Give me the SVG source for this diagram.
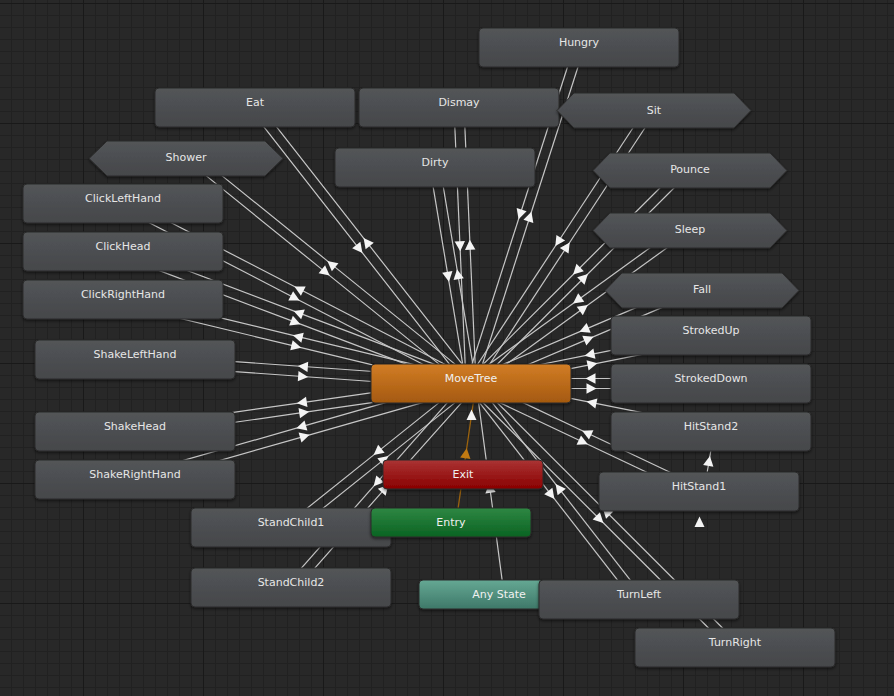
<svg xmlns="http://www.w3.org/2000/svg" width="894" height="696" viewBox="0 0 894 696">
<defs>
<pattern id="minor" width="12" height="12" patternUnits="userSpaceOnUse" x="11" y="3"><rect x="0" y="0" width="1" height="12" fill="#212121"/><rect x="0" y="0" width="12" height="1" fill="#212121"/></pattern>
<pattern id="major" width="120" height="120" patternUnits="userSpaceOnUse" x="83" y="3"><rect x="0" y="0" width="1" height="120" fill="#191919"/><rect x="0" y="0" width="120" height="1" fill="#191919"/></pattern>
<linearGradient id="gGray" x1="0" y1="0" x2="0" y2="1"><stop offset="0" stop-color="#535558"/><stop offset="1" stop-color="#45474a"/></linearGradient>
<linearGradient id="gOrange" x1="0" y1="0" x2="0" y2="1"><stop offset="0" stop-color="#d27d25"/><stop offset="1" stop-color="#a45910"/></linearGradient>
<linearGradient id="gRed" x1="0" y1="0" x2="0" y2="1"><stop offset="0" stop-color="#aa3434"/><stop offset="1" stop-color="#8a0000"/></linearGradient>
<linearGradient id="gGreen" x1="0" y1="0" x2="0" y2="1"><stop offset="0" stop-color="#2f8743"/><stop offset="1" stop-color="#0a6322"/></linearGradient>
<linearGradient id="gTeal" x1="0" y1="0" x2="0" y2="1"><stop offset="0" stop-color="#65a894"/><stop offset="1" stop-color="#3e7868"/></linearGradient>
<filter id="sh" x="-10%" y="-30%" width="120%" height="170%"><feDropShadow dx="0" dy="1.5" stdDeviation="1.5" flood-color="#000" flood-opacity="0.55"/></filter>
<marker id="ar" viewBox="-7 -7 14 14" markerWidth="14" markerHeight="14" refX="0" refY="0" orient="auto" markerUnits="userSpaceOnUse"><path d="M5.5,0 L-4.5,-5.2 L-4.5,5.2 Z" fill="#f4f4f4"/></marker>
<marker id="aro" viewBox="-7 -7 14 14" markerWidth="14" markerHeight="14" refX="0" refY="0" orient="auto" markerUnits="userSpaceOnUse"><path d="M5.5,0 L-4.5,-5.2 L-4.5,5.2 Z" fill="#c27a12"/></marker>
</defs>
<style>
.n{fill:url(#gGray);stroke:#2a2a2a;stroke-width:1;filter:url(#sh)}
.t{font-family:"DejaVu Sans","Liberation Sans",sans-serif;font-size:11px;fill:#e6e6e6;text-anchor:middle}
.tw{font-family:"DejaVu Sans","Liberation Sans",sans-serif;font-size:11px;fill:#f0f0f0;text-anchor:middle}
.c{stroke:#c6c6c6;stroke-width:1.2;fill:none;marker-mid:url(#ar)}
.co{stroke:#9a620e;stroke-width:1.3;fill:none;marker-mid:url(#aro)}
.self{fill:#f4f4f4}
</style>
<rect width="894" height="696" fill="#282828"/>
<rect width="894" height="696" fill="url(#minor)"/>
<rect width="894" height="696" fill="url(#major)"/>
<g id="connectors">
<path class="c" d="M574.24,45.97 L520.24,213.97 L466.24,381.97"/>
<path class="c" d="M475.76,385.03 L529.76,217.03 L583.76,49.03"/>
<path class="c" d="M251.06,110.58 L359.06,248.58 L467.06,386.58"/>
<path class="c" d="M474.94,380.42 L366.94,242.42 L258.94,104.42"/>
<path class="c" d="M454.00,107.72 L460.00,245.72 L466.00,383.72"/>
<path class="c" d="M476.00,383.28 L470.00,245.28 L464.00,107.28"/>
<path class="c" d="M430.07,168.32 L448.07,276.32 L466.07,384.32"/>
<path class="c" d="M475.93,382.68 L457.93,274.68 L439.93,166.68"/>
<path class="c" d="M120.70,207.94 L294.70,297.94 L468.70,387.94"/>
<path class="c" d="M473.30,379.06 L299.30,289.06 L125.30,199.06"/>
<path class="c" d="M121.23,256.18 L295.23,322.18 L469.23,388.18"/>
<path class="c" d="M472.77,378.83 L298.77,312.83 L124.77,246.83"/>
<path class="c" d="M121.83,304.36 L295.83,346.36 L469.83,388.36"/>
<path class="c" d="M472.17,378.64 L298.17,336.64 L124.17,294.64"/>
<path class="c" d="M134.64,364.49 L302.64,376.49 L470.64,388.49"/>
<path class="c" d="M471.36,378.51 L303.36,366.51 L135.36,354.51"/>
<path class="c" d="M135.71,436.45 L303.71,412.45 L471.71,388.45"/>
<path class="c" d="M470.29,378.55 L302.29,402.55 L134.29,426.55"/>
<path class="c" d="M136.37,484.31 L304.37,436.31 L472.37,388.31"/>
<path class="c" d="M469.63,378.69 L301.63,426.69 L133.63,474.69"/>
<path class="c" d="M294.12,531.40 L384.12,459.40 L474.12,387.40"/>
<path class="c" d="M467.88,379.60 L377.88,451.60 L287.88,523.60"/>
<path class="c" d="M294.75,590.81 L384.75,488.81 L474.75,387.81"/>
<path class="c" d="M467.25,380.19 L377.25,482.19 L287.25,584.19"/>
<path class="c" d="M710.02,330.60 L590.02,354.60 L470.02,378.60"/>
<path class="c" d="M471.98,388.40 L591.98,364.40 L711.98,340.40"/>
<path class="c" d="M711,378.5 L591,378.5 L471,378.5"/>
<path class="c" d="M471,388.5 L591,388.5 L711,388.5"/>
<path class="c" d="M711.98,426.60 L591.98,402.60 L471.98,378.60"/>
<path class="c" d="M701.14,486.98 L587.14,432.98 L473.14,378.98"/>
<path class="c" d="M468.86,388.02 L582.86,442.02 L696.86,496.02"/>
<path class="c" d="M704,491 L709,461.5 L714,432"/>
<path class="c" d="M642.95,596.43 L558.95,488.43 L474.95,380.43"/>
<path class="c" d="M467.05,386.57 L551.05,494.57 L635.05,602.57"/>
<path class="c" d="M738.54,643.96 L606.54,511.96 L474.54,379.96"/>
<path class="c" d="M467.46,387.04 L599.46,519.04 L731.46,651.04"/>
<path class="c" d="M182.86,156.89 L325.36,272.14 L467.86,387.39"/>
<path class="c" d="M474.14,379.61 L331.64,264.36 L189.14,149.11"/>
<path class="c" d="M649.82,102.25 L558.32,241.50 L466.82,380.75"/>
<path class="c" d="M475.18,386.25 L566.68,247.00 L658.18,107.75"/>
<path class="c" d="M686.47,161.46 L576.97,270.71 L467.47,379.96"/>
<path class="c" d="M474.53,387.04 L584.03,277.79 L693.53,168.54"/>
<path class="c" d="M687.07,220.95 L577.57,300.20 L468.07,379.45"/>
<path class="c" d="M473.93,387.55 L583.43,308.30 L692.93,229.05"/>
<path class="c" d="M700.04,280.40 L584.54,329.65 L469.04,378.90"/>
<path class="c" d="M472.96,388.10 L588.46,338.85 L703.96,289.60"/>
<path class="c" d="M503.96,593.84 L489.96,488.34 L475.96,382.84"/>
<path class="co" d="M455.95,523.21 L465.95,453.71 L475.95,384.21"/>
<path class="self" d="M471.5,409.5 L476.5,420 L466.5,420 Z"/>
<path class="self" d="M699.5,516.5 L704.5,527 L694.5,527 Z"/>
</g>
<g id="n-hungry"><rect class="n" x="479" y="28" width="200" height="39" rx="4"/><text class="t" x="579" y="46">Hungry</text></g>
<g id="n-eat"><rect class="n" x="155" y="88" width="200" height="39" rx="4"/><text class="t" x="255" y="106">Eat</text></g>
<g id="n-dismay"><rect class="n" x="359" y="88" width="200" height="39" rx="4"/><text class="t" x="459" y="106">Dismay</text></g>
<g id="n-sit"><path class="n" d="M557,110.5 L574,93 L734,93 L751,110.5 L734,128 L574,128 Z" stroke-linejoin="round"/><text class="t" x="654" y="114">Sit</text></g>
<g id="n-shower"><path class="n" d="M89,158.5 L107,141 L265,141 L283,158.5 L265,176 L107,176 Z" stroke-linejoin="round"/><text class="t" x="186" y="161">Shower</text></g>
<g id="n-dirty"><rect class="n" x="335" y="148" width="200" height="39" rx="4"/><text class="t" x="435" y="166">Dirty</text></g>
<g id="n-clicklefthand"><rect class="n" x="23" y="184" width="200" height="39" rx="4"/><text class="t" x="123" y="202">ClickLeftHand</text></g>
<g id="n-pounce"><path class="n" d="M593,170.5 L610,153 L770,153 L787,170.5 L770,188 L610,188 Z" stroke-linejoin="round"/><text class="t" x="690" y="173">Pounce</text></g>
<g id="n-clickhead"><rect class="n" x="23" y="232" width="200" height="39" rx="4"/><text class="t" x="123" y="250">ClickHead</text></g>
<g id="n-sleep"><path class="n" d="M593,230.5 L610,213 L770,213 L787,230.5 L770,248 L610,248 Z" stroke-linejoin="round"/><text class="t" x="690" y="233">Sleep</text></g>
<g id="n-clickrighthand"><rect class="n" x="23" y="280" width="200" height="39" rx="4"/><text class="t" x="123" y="298">ClickRightHand</text></g>
<g id="n-fall"><path class="n" d="M605,290.5 L622,273 L782,273 L799,290.5 L782,308 L622,308 Z" stroke-linejoin="round"/><text class="t" x="702" y="293">Fall</text></g>
<g id="n-strokedup"><rect class="n" x="611" y="316" width="200" height="39" rx="4"/><text class="t" x="711" y="334">StrokedUp</text></g>
<g id="n-shakelefthand"><rect class="n" x="35" y="340" width="200" height="39" rx="4"/><text class="t" x="135" y="358">ShakeLeftHand</text></g>
<g id="n-movetree"><rect class="n" style="fill:url(#gOrange)" x="371" y="364" width="200" height="39" rx="4"/><text class="tw" x="471" y="382">MoveTree</text></g>
<g id="n-strokeddown"><rect class="n" x="611" y="364" width="200" height="39" rx="4"/><text class="t" x="711" y="382">StrokedDown</text></g>
<g id="n-shakehead"><rect class="n" x="35" y="412" width="200" height="39" rx="4"/><text class="t" x="135" y="430">ShakeHead</text></g>
<g id="n-hitstand2"><rect class="n" x="611" y="412" width="200" height="39" rx="4"/><text class="t" x="711" y="430">HitStand2</text></g>
<g id="n-shakerighthand"><rect class="n" x="35" y="460" width="200" height="39" rx="4"/><text class="t" x="135" y="478">ShakeRightHand</text></g>
<g id="n-exit"><rect class="n" style="fill:url(#gRed)" x="383" y="460" width="160" height="29" rx="4"/><text class="tw" x="463" y="478">Exit</text></g>
<g id="n-hitstand1"><rect class="n" x="599" y="472" width="200" height="39" rx="4"/><text class="t" x="699" y="490">HitStand1</text></g>
<g id="n-standchild1"><rect class="n" x="191" y="508" width="200" height="39" rx="4"/><text class="t" x="291" y="526">StandChild1</text></g>
<g id="n-entry"><rect class="n" style="fill:url(#gGreen)" x="371" y="508" width="160" height="29" rx="4"/><text class="tw" x="451" y="526">Entry</text></g>
<g id="n-standchild2"><rect class="n" x="191" y="568" width="200" height="39" rx="4"/><text class="t" x="291" y="586">StandChild2</text></g>
<g id="n-anystate"><rect class="n" style="fill:url(#gTeal)" x="419" y="580" width="160" height="29" rx="4"/><text class="tw" x="499" y="598">Any State</text></g>
<g id="n-turnleft"><rect class="n" x="539" y="580" width="200" height="39" rx="4"/><text class="t" x="639" y="598">TurnLeft</text></g>
<g id="n-turnright"><rect class="n" x="635" y="628" width="200" height="39" rx="4"/><text class="t" x="735" y="646">TurnRight</text></g>
</svg>
